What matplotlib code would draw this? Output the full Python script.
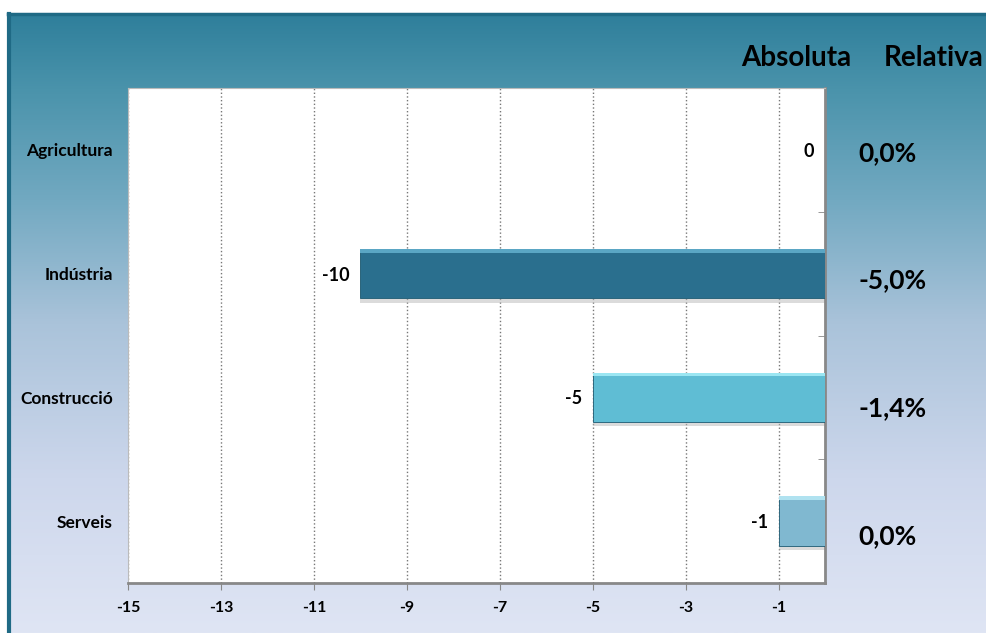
import numpy as np
import matplotlib
matplotlib.use('Agg')
import matplotlib.pyplot as plt
from matplotlib.colors import LinearSegmentedColormap

plt.rcParams['font.family'] = ['Lato', 'DejaVu Sans']

# Data
categories = ['Agricultura', 'Indústria', 'Construcció', 'Serveis']
absoluta = [0, -10, -5, -1]
relativa = ['0,0%', '-5,0%', '-1,4%', '0,0%']
bar_colors = ['#2a6f8e', '#2a6f8e', '#5fbdd4', '#80b8d0']
top_colors = ['#5aa6c4', '#5aa6c4', '#9be6f2', '#b0e2f0']
xticks = [-15, -13, -11, -9, -7, -5, -3, -1]

W, H = 987, 633
fig = plt.figure(figsize=(W/100., H/100.), dpi=100, facecolor='white')

# background gradient panel
bg = fig.add_axes([0, 0, 1, 1])
bg.set_xlim(0, W)
bg.set_ylim(H, 0)
bg.axis('off')
cmap = LinearSegmentedColormap.from_list('bg', [(0.0, '#2f7f9b'), (0.12, '#4a93ab'),
                                               (0.3, '#72a9c1'), (0.5, '#aac3da'),
                                               (0.75, '#cdd7ec'), (1.0, '#dfe5f4')])
grad = np.linspace(0, 1, 256).reshape(-1, 1)
bg.imshow(grad, cmap=cmap, aspect='auto', extent=[8, W, H, 14], zorder=0)
bg.plot([8, W], [14, 14], color='#1f6a85', lw=2.5, zorder=1)
bg.plot([9, 9], [14, H], color='#1f6a85', lw=3, zorder=1)

# main axes
x0, x1, ytop, ybot = 128, 825.5, 88, 583
ax = fig.add_axes([x0/W, 1-ybot/H, (x1-x0)/W, (ybot-ytop)/H])
ax.set_facecolor('white')
ypos = np.arange(len(categories))
bh = 0.4
ax.barh(ypos+0.035, absoluta, height=bh, color='#b8b8b8', alpha=0.5, zorder=2)
ax.barh(ypos, absoluta, height=bh, color=bar_colors, edgecolor='#1d5a72', linewidth=0.6, zorder=3)
ax.barh(ypos-bh/2+0.016, absoluta, height=0.03, color=top_colors, linewidth=0, zorder=4)

for i, v in enumerate(absoluta):
    ax.annotate('{}'.format(v), xy=(v, ypos[i]), xytext=(-8, -1), textcoords='offset points',
                ha='right', va='center', fontsize=13, fontweight='bold', color='black')
    # relative values sit a little lower than the bars, more so further down
    ax.annotate(relativa[i], xy=(1.047, ypos[i]), xycoords=ax.get_yaxis_transform(),
                xytext=(0, -(2+3*i)), textcoords='offset points',
                ha='left', va='center', fontsize=19, fontweight='bold', color='black',
                annotation_clip=False)

ax.text(0.958, 1.06, 'Absoluta', transform=ax.transAxes, ha='center', va='center',
        fontsize=20, fontweight='bold')
ax.text(1.155, 1.06, 'Relativa', transform=ax.transAxes, ha='center', va='center',
        fontsize=20, fontweight='bold')

ax.set_xlim(-15, 0)
ax.set_ylim(3.5, -0.5)
ax.set_xticks(xticks)
ax.set_xticklabels(['{}'.format(t) for t in xticks], fontsize=11.5, fontweight='bold')
ax.xaxis.grid(True, linestyle=':', color='#777777', linewidth=1.0, zorder=1)
ax.set_axisbelow(True)
ax.tick_params(axis='x', direction='out', length=5, color='#888888', pad=8)
ax.set_yticks(ypos)
ax.set_yticklabels(categories, fontsize=12.5, fontweight='bold')
ax.tick_params(axis='y', length=0, pad=11)
ax.set_yticks([0.5, 1.5, 2.5], minor=True)
ax.tick_params(axis='y', which='minor', left=False, right=True, direction='in', length=5, color='#888888')
for s in ['top', 'left']:
    ax.spines[s].set_color('#bbbbbb')
    ax.spines[s].set_linewidth(0.8)
for s in ['bottom', 'right']:
    ax.spines[s].set_color('#888888')
    ax.spines[s].set_linewidth(2)

fig.savefig('out.png', dpi=100)
